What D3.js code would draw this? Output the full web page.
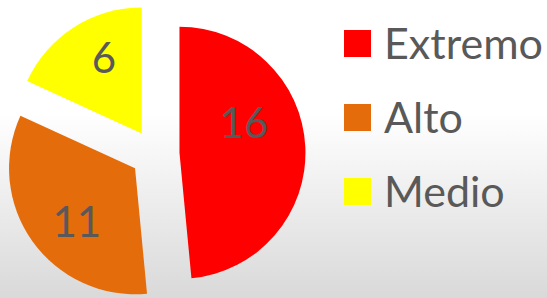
<!DOCTYPE html>
<html>
<head>
<meta charset="utf-8">
<script src="https://cdn.jsdelivr.net/npm/d3@7"></script>
<style>
  html, body { margin: 0; padding: 0; }
  svg { display: block; }
</style>
</head>
<body>
<svg width="547" height="298"></svg>
<script>
// data
const categories = ["Extremo", "Alto", "Medio"];
const values = [16, 11, 6];
const colors = ["#ff0000", "#e46c0a", "#ffff00"];

const svg = d3.select("svg");
const width = 547, height = 298;
const font = "Lato, 'Open Sans', sans-serif";
const textColor = "#595959";

// background gradient (white -> light gray)
const defs = svg.append("defs");
const grad = defs.append("linearGradient")
  .attr("id", "bg").attr("x1", 0).attr("y1", 0).attr("x2", 0).attr("y2", 1);
grad.append("stop").attr("offset", "0%").attr("stop-color", "#ffffff");
grad.append("stop").attr("offset", "38%").attr("stop-color", "#ffffff");
grad.append("stop").attr("offset", "100%").attr("stop-color", "#d9d9d9");
svg.append("rect").attr("width", width).attr("height", height).attr("fill", "url(#bg)");

// pie layout
const cx = 155, cy = 154, radius = 126, explode = 24.5;
const pie = d3.pie().sort(null).startAngle(0).endAngle(2 * Math.PI);
const arcs = pie(values);
const arc = d3.arc().innerRadius(0).outerRadius(radius);

// label placement tweaks (angle shift in degrees, distance from apex)
const labelShift = [-22, -7, 6];
const labelDist = [71, 79, 84];

const g = svg.append("g").attr("transform", `translate(${cx},${cy})`);

arcs.forEach((d, i) => {
  const mid = (d.startAngle + d.endAngle) / 2;
  const ox = explode * Math.sin(mid), oy = -explode * Math.cos(mid);
  const slice = g.append("g").attr("transform", `translate(${ox},${oy})`);
  slice.append("path").attr("d", arc(d)).attr("fill", colors[i]);

  const la = mid + labelShift[i] * Math.PI / 180;
  slice.append("text")
    .attr("x", labelDist[i] * Math.sin(la))
    .attr("y", -labelDist[i] * Math.cos(la))
    .attr("dy", "0.36em")
    .attr("text-anchor", "middle")
    .attr("font-family", font)
    .attr("font-size", 42)
    .attr("fill", textColor)
    .text(values[i]);
});

// legend
const legendY = d3.scalePoint().domain(categories).range([43.5, 191.5]);
const legend = svg.append("g");
categories.forEach((c, i) => {
  const y = legendY(c);
  legend.append("rect")
    .attr("x", 344).attr("y", y - 13.5)
    .attr("width", 27).attr("height", 27)
    .attr("fill", colors[i]);
  legend.append("text")
    .attr("x", 384).attr("y", y)
    .attr("dy", "0.36em")
    .attr("font-family", font)
    .attr("font-size", 43)
    .attr("fill", textColor)
    .text(c);
});
</script>
</body>
</html>
